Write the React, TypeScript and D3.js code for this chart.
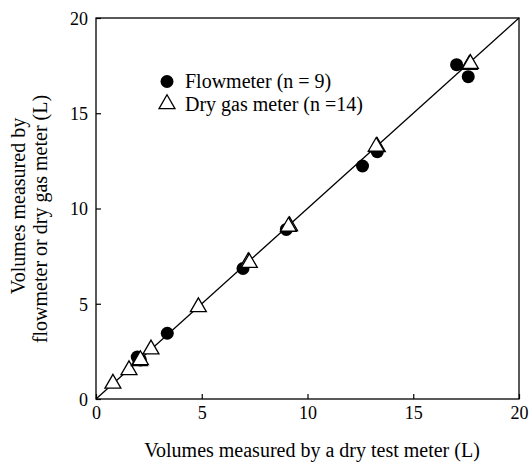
import React, { useEffect, useRef } from 'react';
import * as d3 from 'd3';

// Flowmeter readings (dry test meter L, flowmeter L)
const flowX = [1.95, 2.1, 3.37, 6.95, 9.0, 12.6, 13.3, 17.05, 17.6];
const flowY = [2.2, 2.05, 3.45, 6.85, 8.9, 12.23, 12.98, 17.55, 16.92];

// Dry gas meter readings
const dryX = [0.8, 1.56, 2.05, 2.1, 2.6, 4.84, 7.2, 7.25, 9.15, 9.1, 13.3, 13.25, 17.65, 17.7];
const dryY = [0.86, 1.57, 2.05, 2.1, 2.66, 4.88, 7.24, 7.2, 9.13, 9.1, 13.28, 13.3, 17.6, 17.65];

const ticks = [0, 5, 10, 15, 20];
const legendLabels = ['Flowmeter (n = 9)', 'Dry gas meter (n =14)'];

const W = 531, H = 463;
const margin = { left: 96, right: 12, top: 18, bottom: 64 };
const FONT = 'Liberation Serif';

const App = () => {
    const ref = useRef<SVGSVGElement>(null);

    useEffect(() => {
        const svg = d3.select(ref.current);
        svg.selectAll('*').remove();

        const x = d3.scaleLinear().domain([0, 20]).range([margin.left, W - margin.right]);
        const y = d3.scaleLinear().domain([0, 20]).range([H - margin.bottom, margin.top]);

        const g = svg.append('g').style('font-family', FONT);

        // frame
        g.append('rect')
            .attr('x', x(0)).attr('y', y(20))
            .attr('width', x(20) - x(0)).attr('height', y(0) - y(20))
            .attr('fill', 'none').attr('stroke', '#000').attr('stroke-width', 1.3);

        const xAxis = g.append('g')
            .attr('transform', `translate(0,${y(0)})`)
            .call(d3.axisTop(x).tickValues(ticks).tickSize(5).tickFormat(() => ''));
        xAxis.select('.domain').remove();
        xAxis.attr('font-family', null);
        xAxis.selectAll('.tick line').attr('stroke-width', 1.2);
        xAxis.selectAll('.tick').append('text')
            .attr('y', 20).attr('text-anchor', 'middle')
            .style('font-family', FONT).style('font-size', '18px').attr('fill', '#000')
            .text((d: any) => d);

        const yAxis = g.append('g')
            .attr('transform', `translate(${x(0)},0)`)
            .call(d3.axisRight(y).tickValues(ticks).tickSize(5).tickFormat(() => ''));
        yAxis.select('.domain').remove();
        yAxis.attr('font-family', null);
        yAxis.selectAll('.tick line').attr('stroke-width', 1.2);
        yAxis.selectAll('.tick').append('text')
            .attr('x', -8).attr('dy', '0.35em').attr('text-anchor', 'end')
            .style('font-family', FONT).style('font-size', '18px').attr('fill', '#000')
            .text((d: any) => d);

        // identity line
        g.append('line')
            .attr('x1', x(0)).attr('y1', y(0)).attr('x2', x(20)).attr('y2', y(20))
            .attr('stroke', '#000').attr('stroke-width', 1.3);

        const tri = d3.symbol().type(d3.symbolTriangle).size(110);

        g.selectAll('circle.flow')
            .data(flowX.map((v, i) => [v, flowY[i]]))
            .enter().append('circle')
            .attr('class', 'flow')
            .attr('cx', d => x(d[0])).attr('cy', d => y(d[1]))
            .attr('r', 6.5).attr('fill', '#000');

        g.selectAll('path.dry')
            .data(dryX.map((v, i) => [v, dryY[i]]))
            .enter().append('path')
            .attr('class', 'dry')
            .attr('d', tri)
            .attr('transform', d => `translate(${x(d[0])},${y(d[1]) + 1})`)
            .attr('fill', '#fff').attr('stroke', '#000').attr('stroke-width', 1.3);

        // legend
        const lg = g.append('g');
        lg.append('circle').attr('cx', 167).attr('cy', 81.5).attr('r', 6.5).attr('fill', '#000');
        lg.append('path').attr('d', tri)
            .attr('transform', 'translate(167,104)')
            .attr('fill', '#fff').attr('stroke', '#000').attr('stroke-width', 1.3);
        lg.selectAll('text.leg')
            .data(legendLabels)
            .enter().append('text')
            .attr('class', 'leg')
            .attr('x', 185).attr('y', (d, i) => 88 + i * 23)
            .style('font-size', '20px').attr('fill', '#000')
            .text(d => d);

        // axis titles
        g.append('text')
            .attr('x', 312).attr('y', 457)
            .attr('text-anchor', 'middle')
            .style('font-size', '20px').attr('fill', '#000')
            .text('Volumes measured by a dry test meter (L)');

        g.append('text')
            .attr('transform', 'translate(25,206) rotate(-90)')
            .attr('text-anchor', 'middle')
            .style('font-size', '20px').attr('fill', '#000')
            .text('Volumes measured by');
        g.append('text')
            .attr('transform', 'translate(47,219) rotate(-90)')
            .attr('text-anchor', 'middle')
            .style('font-size', '20px').attr('fill', '#000')
            .text('flowmeter or dry gas meter (L)');
    }, []);

    return (
        <svg ref={ref} width={W} height={H}
            style={{ position: 'absolute', left: 0, top: 0, background: '#fff' }} />
    );
};

export default App;
